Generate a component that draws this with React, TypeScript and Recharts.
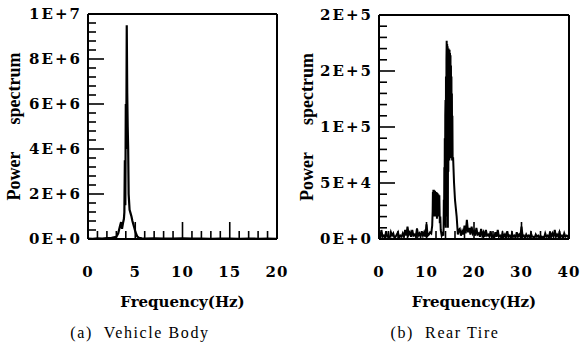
import React from 'react';
import { LineChart, Line, XAxis, YAxis, ReferenceLine } from 'recharts';

// ---------- (a) Vehicle Body ----------
const bodyFreq = [
  0, 0.5, 1, 1.5, 2, 2.5, 3, 3.2, 3.4, 3.5, 3.6, 3.7, 3.8, 3.85, 3.9, 3.95, 4.0, 4.05, 4.1, 4.15, 4.2, 4.25,
  4.3, 4.4, 4.5, 4.6, 4.7, 4.8, 4.9, 5.0, 5.1, 5.2, 5.4, 5.7, 6, 7, 8, 9, 10, 11, 12, 13, 14, 15, 16,
  17, 18, 19, 20,
];
const bodyPower = [
  2e4, 1e4, 3e4, 2e4, 4e4, 5e4, 1e5, 2.5e5, 6e5, 7.5e5, 4.5e5, 7e5, 9e5, 1.2e6, 3.5e6, 1.5e6, 6e6, 4e6, 9.5e6,
  6.5e6, 5e6, 4e6, 2e6, 1.3e6, 1.15e6, 1e6, 8e5, 6.5e5, 5e5, 3.5e5, 2.2e5, 1.2e5, 5e4, 3e4, 2e4, 3e4,
  2e4, 2e4, 3e4, 2e4, 2e4, 1e4, 2e4, 2e4, 1e4, 2e4, 1e4, 2e4, 1e4,
];
const bodyXTicks = [0, 5, 10, 15, 20];
const bodyXMinor = [0, 1, 2, 3, 4, 5, 6, 7, 8, 9, 10, 11, 12, 13, 14, 15, 16, 17, 18, 19, 20];
const bodyYTicks = [0, 2e6, 4e6, 6e6, 8e6, 1e7];
const bodyYLabels = ['0E+0', '2E+6', '4E+6', '6E+6', '8E+6', '1E+7'];
const bodyYMinor = [
  0, 4e5, 8e5, 1.2e6, 1.6e6, 2e6, 2.4e6, 2.8e6, 3.2e6, 3.6e6, 4e6, 4.4e6, 4.8e6, 5.2e6, 5.6e6, 6e6,
  6.4e6, 6.8e6, 7.2e6, 7.6e6, 8e6, 8.4e6, 8.8e6, 9.2e6, 9.6e6, 1e7,
];

// ---------- (b) Rear Tire ----------
const rearFreq = [
  0, 0.25, 0.5, 0.75, 1.0, 1.25, 1.5, 1.75, 2.0, 2.25, 2.5, 2.75, 3.0, 3.25, 3.5, 3.75, 4.0, 4.25, 4.5,
  4.75, 5.0, 5.25, 5.5, 5.75, 6.0, 6.25, 6.5, 6.75, 7.0, 7.25, 7.5, 7.75, 8.0, 8.25, 8.5, 8.75, 9.0,
  9.25, 9.5, 9.75, 10.0, 10.25, 10.5, 10.75, 11.0, 11.2, 11.3, 11.35, 11.4, 11.45, 11.5, 11.55, 11.6,
  11.7, 11.75, 11.8, 11.9, 11.95, 12.0, 12.1, 12.2, 12.3, 12.4, 12.5, 12.6, 12.7, 12.8, 12.9, 13.0,
  13.2, 13.4, 13.55, 13.6, 13.65, 13.7, 13.75, 13.8, 13.85, 13.9, 13.95, 14.0, 14.05, 14.1, 14.15,
  14.2, 14.25, 14.3, 14.35, 14.4, 14.45, 14.5, 14.55, 14.6, 14.65, 14.7, 14.75, 14.8, 14.85, 14.9,
  14.95, 15.0, 15.05, 15.1, 15.15, 15.2, 15.25, 15.3, 15.35, 15.4, 15.45, 15.5, 15.6, 15.8, 16.0,
  16.35, 16.6, 16.8, 17.0, 17.25, 17.5, 17.75, 18.0, 18.25, 18.5, 18.75, 19.0, 19.25, 19.5, 19.75,
  20.0, 20.25, 20.5, 20.75, 21, 21.25, 21.5, 21.75, 22, 22.25, 22.5, 22.75, 23, 23.25, 23.5, 23.75,
  24, 24.25, 24.5, 24.75, 25, 25.25, 25.5, 25.75, 26, 26.25, 26.5, 26.75, 27, 27.25, 27.5, 27.75, 28,
  28.25, 28.5, 28.75, 29, 29.25, 29.5, 29.75, 30, 30.25, 30.5, 30.75, 31, 31.25, 31.5, 31.75, 32,
  32.25, 32.5, 32.75, 33, 33.25, 33.5, 33.75, 34, 34.25, 34.5, 34.75, 35, 35.25, 35.5, 35.75, 36,
  36.25, 36.5, 36.75, 37, 37.25, 37.5, 37.75, 38, 38.25, 38.5, 38.75, 39, 39.25, 39.5, 39.75, 40,
];
const rearPower = [
  // 0 - 4.5
  4e3, 1e3, 8e3, 2e3, 3e3, 1e3, 7e3, 2e3, 2e3, 1e3, 6e3, 3e3, 5e3, 1e3, 2e3, 4e3, 6e3, 1e3, 3e3,
  // 4.75 - 9
  2e3, 5e3, 2e3, 8e3, 3e3, 1.1e4, 4e3, 6e3, 2e3, 8e3, 3e3, 4e3, 2e3, 9.5e3, 3e3, 5e3, 2e3, 7e3,
  // 9.25 - 11.6
  3e3, 6e3, 2e3, 1.3e4, 3e3, 4e3, 6e3, 5e3, 1.2e4, 2.5e4, 4.2e4, 2e4, 4.4e4, 2.2e4, 4.4e4, 2.5e4,
  // 11.7 - 13.0
  4.3e4, 2e4, 4.3e4, 2.5e4, 4.2e4, 2e4, 4.2e4, 1.8e4, 4.1e4, 2.5e4, 4e4, 2e4, 3.9e4, 1.4e4, 2e4, 8e3,
  // 13.2 - 14.15
  3e3, 5e3, 3e3, 1e4, 3.5e4, 1.2e4, 6.4e4, 2e4, 9e4, 3e4, 1.1e5, 1.24e5, 1e4, 1.45e5, 2e4,
  // 14.2 - 14.9
  1.6e5, 1.77e5, 3e4, 1.74e5, 5e4, 1.72e5, 1e4, 1.7e5, 6e4, 1.7e5, 1e5, 1.69e5, 7e4, 1.69e5, 7.5e4,
  // 14.95 - 16.0
  1.66e5, 8e4, 1.64e5, 7.5e4, 1.55e5, 7.2e4, 1.45e5, 7.3e4, 1.3e5, 7e4, 1.1e5, 7.2e4, 7.3e4, 5e4, 3.5e4,
  // 16.35 - 19.75
  2e4, 4e3, 8e3, 9e3, 3e3, 7e3, 4e3, 1.2e4, 5e3, 1.7e4, 6e3, 1e4, 4e3, 1.1e4, 5e3,
  // 20 - 23.75
  7e3, 3e3, 1e4, 4e3, 5e3, 2e3, 9e3, 3e3, 6e3, 2e3, 8e3, 3e3, 4e3, 2e3, 7e3, 2e3,
  // 24 - 27.75
  3e3, 1e3, 6e3, 2e3, 8e3, 2e3, 3e3, 1e3, 5e3, 2e3, 4e3, 1e3, 7e3, 2e3, 3e3, 1e3,
  // 28 - 31.75
  5e3, 2e3, 3e3, 1e3, 6e3, 2e3, 4e3, 2e3, 1.1e4, 2e3, 3e3, 1e3, 4e3, 2e3, 3e3, 1e3,
  // 32 - 35.75
  5e3, 2e3, 2e3, 1e3, 4e3, 2e3, 3e3, 1e3, 3e3, 1e3, 2e3, 1e3, 5e3, 2e3, 3e3, 1e3,
  // 36 - 40
  6e3, 2e3, 5e3, 2e3, 8e3, 2e3, 4e3, 2e3, 6e3, 2e3, 3e3, 1e3, 5e3, 2e3, 3e3, 2e3, 4e3,
];
const rearXTicks = [0, 10, 20, 30, 40];
const rearXMinor = [0, 2, 4, 6, 8, 10, 12, 14, 16, 18, 20, 22, 24, 26, 28, 30, 32, 34, 36, 38, 40];
const rearYTicks = [0, 5e4, 1e5, 1.5e5, 2e5];
const rearYLabels = ['0E+0', '5E+4', '1E+5', '2E+5', '2E+5'];
const rearYMinor = [
  0, 1e4, 2e4, 3e4, 4e4, 5e4, 6e4, 7e4, 8e4, 9e4, 1e5, 1.1e5, 1.2e5, 1.3e5, 1.4e5, 1.5e5, 1.6e5,
  1.7e5, 1.8e5, 1.9e5, 2e5,
];

const xTitle = 'Frequency(Hz)';
const yTitle = 'Power\u00a0\u00a0\u00a0\u00a0\u00a0\u00a0spectrum';
const captionA = '(a)\u00a0 Vehicle Body';
const captionB = '(b)\u00a0 Rear Tire';

const BOLD_FONT = 'DejaVu Serif';

type PanelProps = {
  freq: number[];
  power: number[];
  xMax: number;
  xTicks: number[];
  xMinor: number[];
  yMax: number;
  yTicks: number[];
  yLabels: string[];
  yMinor: number[];
  width: number;
  top: number;
  right: number;
  yAxisWidth: number;
  titleOffset: number;
  strokeWidth: number;
};

// x tick: inward tick mark (longer on labelled ticks) plus the label below the axis
function makeXTick(majors: number[]) {
  return (tp: any) => {
    const { x, y, payload } = tp;
    const v = payload.value;
    const isMajor = majors.indexOf(v) >= 0;
    return (
      <g>
        <line x1={x} x2={x} y1={y} y2={y - (isMajor ? 17 : 8)} stroke="#000" strokeWidth={1.6} />
        {isMajor && (
          <text
            x={x}
            y={y + 27}
            dy="0.71em"
            textAnchor="middle"
            fill="#000"
            fontSize={15}
            fontWeight="bold"
            fontFamily={BOLD_FONT}
            letterSpacing={1}
          >
            {String(v)}
          </text>
        )}
      </g>
    );
  };
}

// y tick: inward tick mark plus right-aligned label left of the axis
function makeYTick(majors: number[], labels: string[]) {
  return (tp: any) => {
    const { x, y, payload } = tp;
    const idx = majors.indexOf(payload.value);
    const isMajor = idx >= 0;
    return (
      <g>
        <line x1={x} x2={x + (isMajor ? 16 : 8)} y1={y} y2={y} stroke="#000" strokeWidth={1.6} />
        {isMajor && (
          <text
            x={x - 6}
            y={y}
            dy="0.355em"
            textAnchor="end"
            fill="#000"
            fontSize={15}
            fontWeight="bold"
            fontFamily={BOLD_FONT}
            letterSpacing={2}
          >
            {labels[idx]}
          </text>
        )}
      </g>
    );
  };
}

function Panel(p: PanelProps) {
  const data = p.freq.map((f, i) => ({ f, v: p.power[i] }));
  const line = { stroke: '#000', strokeWidth: 2 };
  return (
    <LineChart
      width={p.width}
      height={353}
      data={data}
      margin={{ top: p.top, right: p.right, bottom: 39, left: 0 }}
    >
      <XAxis
        dataKey="f"
        type="number"
        domain={[0, p.xMax]}
        ticks={p.xMinor}
        interval={0}
        allowDataOverflow
        height={75}
        tickLine={false}
        tickSize={0}
        tickMargin={0}
        axisLine={line}
        tick={makeXTick(p.xTicks)}
        label={{
          value: xTitle,
          position: 'insideBottom',
          offset: 7,
          fill: '#000',
          fontSize: 15,
          fontWeight: 'bold',
          fontFamily: BOLD_FONT,
        }}
      />
      <YAxis
        type="number"
        domain={[0, p.yMax]}
        ticks={p.yMinor}
        interval={0}
        allowDataOverflow
        width={p.yAxisWidth}
        tickLine={false}
        tickSize={0}
        tickMargin={0}
        axisLine={line}
        tick={makeYTick(p.yTicks, p.yLabels)}
        label={{
          value: yTitle,
          angle: -90,
          position: 'insideLeft',
          offset: p.titleOffset,
          fill: '#000',
          fontSize: 18,
          fontWeight: 'bold',
          fontFamily: 'Liberation Serif',
          style: { textAnchor: 'middle' },
        }}
      />
      <ReferenceLine y={p.yMax} stroke="#000" strokeWidth={2} />
      <ReferenceLine x={p.xMax} stroke="#000" strokeWidth={2} />
      <Line
        dataKey="v"
        type="linear"
        stroke="#000"
        strokeWidth={p.strokeWidth}
        dot={false}
        activeDot={false}
        isAnimationActive={false}
      />
    </LineChart>
  );
}

const captionStyle: React.CSSProperties = {
  position: 'absolute',
  top: 323,
  height: 20,
  lineHeight: '20px',
  fontFamily: 'Liberation Serif',
  fontSize: 16,
  letterSpacing: 1.6,
  color: '#000',
  whiteSpace: 'pre',
  textAlign: 'center',
};

export default function App() {
  return (
    <div style={{ position: 'absolute', left: 0, top: 0, width: 581, height: 353, background: '#fff', overflow: 'hidden' }}>
      <div style={{ position: 'absolute', left: 0, top: 0 }}>
        <Panel
          freq={bodyFreq}
          power={bodyPower}
          xMax={20}
          xTicks={bodyXTicks}
          xMinor={bodyXMinor}
          yMax={1e7}
          yTicks={bodyYTicks}
          yLabels={bodyYLabels}
          yMinor={bodyYMinor}
          width={290}
          top={14}
          right={13}
          yAxisWidth={88}
          titleOffset={14}
          strokeWidth={2.2}
        />
      </div>
      <div style={{ position: 'absolute', left: 290, top: 0 }}>
        <Panel
          freq={rearFreq}
          power={rearPower}
          xMax={40}
          xTicks={rearXTicks}
          xMinor={rearXMinor}
          yMax={2e5}
          yTicks={rearYTicks}
          yLabels={rearYLabels}
          yMinor={rearYMinor}
          width={291}
          top={15}
          right={12}
          yAxisWidth={89}
          titleOffset={17}
          strokeWidth={2}
        />
      </div>
      <div style={{ ...captionStyle, left: 40, width: 200 }}>{captionA}</div>
      <div style={{ ...captionStyle, left: 345, width: 200 }}>{captionB}</div>
    </div>
  );
}
